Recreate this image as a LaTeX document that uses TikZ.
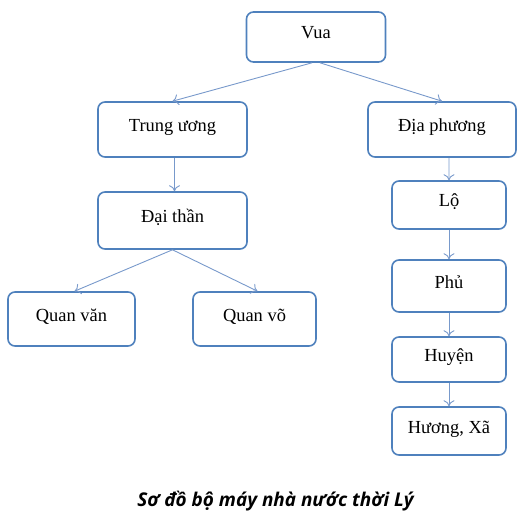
\documentclass[tikz,border=0pt]{standalone}
\usepackage{fontspec}
\setmainfont{Liberation Serif}
\newfontfamily\capfont{Open Sans}
\usetikzlibrary{arrows.meta}
\definecolor{boxblue}{RGB}{79,129,189}
\definecolor{arrowblue}{RGB}{120,153,203}
\begin{document}
\begin{tikzpicture}[x=1bp,y=-1bp,
  box/.style={draw=boxblue,line width=1.6bp,rounded corners=7bp,inner sep=0pt,
    text height=14bp,text depth=10bp,font=\fontsize{18.5}{21}\selectfont},
  conn/.style={draw=arrowblue,line width=0.9bp,-{To[length=6bp,width=11bp]}}]
\useasboundingbox (0,0) rectangle (527,523);
\node[box,minimum width=139bp,minimum height=50bp] (vua) at (316,37) {Vua};
\node[box,minimum width=149bp,minimum height=55bp] (tw) at (172.5,129.5) {Trung ương};
\node[box,minimum width=148bp,minimum height=55bp] (dp) at (442,129.5) {Địa phương};
\node[box,minimum width=149bp,minimum height=57bp] (dt) at (172.5,220.5) {Đại thần};
\node[box,minimum width=127bp,minimum height=54bp] (qv) at (71.5,319) {Quan văn};
\node[box,minimum width=123bp,minimum height=54bp] (qvo) at (254.5,319) {Quan võ};
\node[box,minimum width=114bp,minimum height=48bp] (lo) at (449,205) {Lộ};
\node[box,minimum width=114bp,minimum height=52bp] (phu) at (449,286) {Phủ};
\node[box,minimum width=114bp,minimum height=45bp] (huyen) at (449,359.5) {Huyện};
\node[box,minimum width=114bp,minimum height=48bp] (xa) at (449,431) {Hương, Xã};
\node[font=\capfont\bfseries\itshape\fontsize{19}{22}\selectfont] (cap) at (275.5,501) {Sơ đồ bộ máy nhà nước thời Lý};
\draw[conn] ([xshift=-4bp]vua.south) -- (tw.north);
\draw[conn] ([xshift=4bp]vua.south) -- (dp.north);
\draw[conn] ([xshift=2bp]tw.south) -- ([xshift=2bp]tw.south |- dt.north);
\draw[conn] (dt.south) -- ([xshift=3bp]qv.north);
\draw[conn] (dt.south) -- ([xshift=3bp]qvo.north);
\draw[conn] ([xshift=7bp]dp.south) -- (lo.north);
\draw[conn] (lo.south) -- (phu.north);
\draw[conn] (phu.south) -- (huyen.north);
\draw[conn] (huyen.south) -- (xa.north);
\end{tikzpicture}
\end{document}
